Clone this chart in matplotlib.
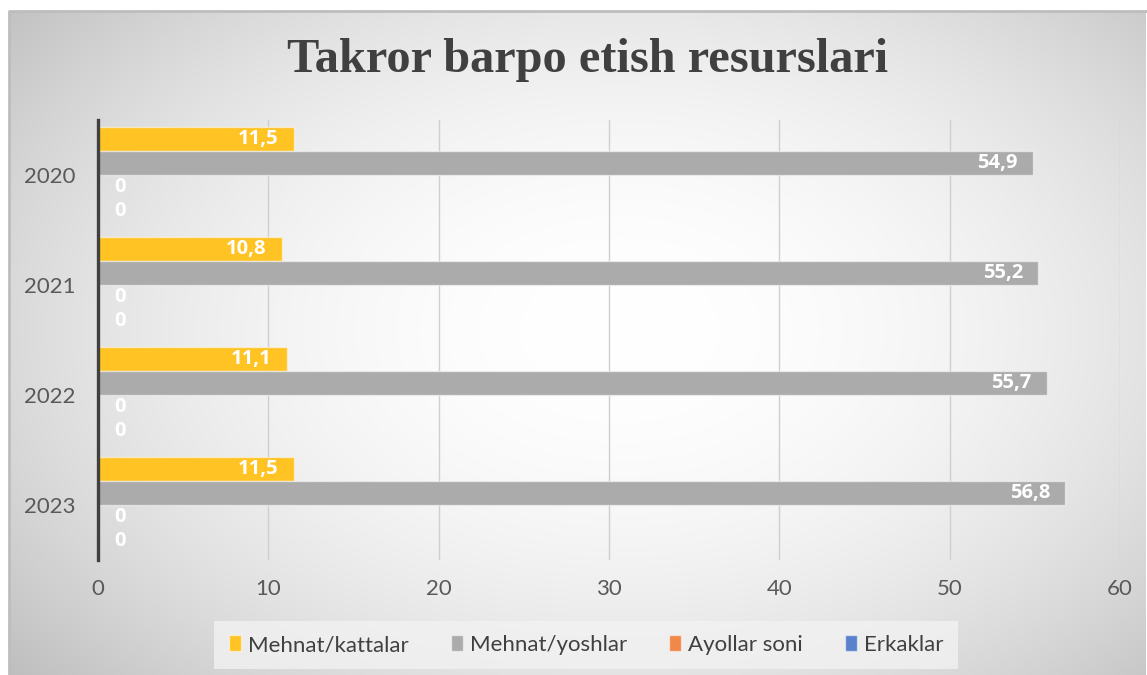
import numpy as np
import matplotlib.pyplot as plt

# data
years = ["2020", "2021", "2022", "2023"]
series_names = ["Mehnat/kattalar", "Mehnat/yoshlar", "Ayollar soni", "Erkaklar"]
kattalar = [11.5, 10.8, 11.1, 11.5]
yoshlar = [54.9, 55.2, 55.7, 56.8]
ayollar = [0, 0, 0, 0]
erkaklar = [0, 0, 0, 0]
colors = ["#FFC324", "#ABABAB", "#F0884A", "#5A82CC"]

FONT = "Lato"
LABEL_FONT = "Open Sans"
W, H = 1147, 675
fig = plt.figure(figsize=(W / 100, H / 100), dpi=100)
fig.patch.set_facecolor("white")

# radial gradient background of the chart area
x0, y0, x1, y1 = 9, 11, 1146, 675
bg = fig.add_axes([x0 / W, 1 - y1 / H, (x1 - x0) / W, (y1 - y0) / H], zorder=-5)
gx, gy = np.meshgrid(np.linspace(x0, x1, 400), np.linspace(y0, y1, 240))
r = np.sqrt(((gx - 620) / 640) ** 2 + ((gy - 330) / 420) ** 2)
v = 1.0 - 0.16 * r ** 2
v = np.clip(v, 0.74, 1)
img = np.dstack([v, v, v])
bg.imshow(img, extent=[0, 1, 0, 1], aspect="auto", origin="upper", interpolation="bilinear")
bg.set_xlim(0, 1)
bg.set_ylim(0, 1)
bg.axis("off")
bg.plot([0, 0, 1], [0, 1, 1], color="#BDBDBD", lw=2, transform=bg.transAxes, clip_on=False)

fig.text(588 / W, 1 - 60 / H, "Takror barpo etish resurslari", ha="center", va="center",
         fontsize=34.8, fontweight="bold", family="Liberation Serif", color="#404040")

ax = fig.add_axes([98 / W, 1 - 560 / H, (1120 - 98) / W, 440 / H])
ax.set_facecolor("none")

y = np.arange(len(years))
bh = 0.218
all_vals = [kattalar, yoshlar, ayollar, erkaklar]
for k, (vals, name, c) in enumerate(zip(all_vals, series_names, colors)):
    off = (k - 1.5) * bh
    bars = ax.barh(y + off, vals, height=bh, color=c, edgecolor=(1, 1, 1, 0.5),
                   linewidth=1, label=name, zorder=3)
    for b, val in zip(bars, vals):
        txt = f"{val:g}".replace(".", ",")
        yc = b.get_y() + b.get_height() / 2
        if val > 0:
            ax.annotate(txt, (val, yc), xytext=(-11, 0), textcoords="offset points",
                        ha="right", va="center", color="white", fontsize=14.5,
                        fontweight="bold", family=LABEL_FONT, zorder=4)
        else:
            ax.annotate(txt, (0, yc), xytext=(12, 0), textcoords="offset points",
                        ha="left", va="center", color="white", fontsize=14.5,
                        fontweight="bold", family=LABEL_FONT, zorder=4)

ax.set_ylim(len(years) - 0.5, -0.5)
ax.set_xlim(0, 60)
ax.set_xticks(range(0, 61, 10))
ax.set_yticks(y)
ax.set_yticklabels(years)
ax.tick_params(axis="both", length=0, labelsize=16, labelcolor="#595959")
ax.tick_params(axis="y", pad=16)
ax.tick_params(axis="x", pad=14)
for lab in ax.get_xticklabels() + ax.get_yticklabels():
    lab.set_family(FONT)
ax.grid(axis="x", color="#CFCFCF", lw=1, zorder=0)
for s in ["top", "right", "bottom"]:
    ax.spines[s].set_visible(False)
ax.spines["left"].set_color("#404040")
ax.spines["left"].set_linewidth(2.4)
ax.spines["left"].set_zorder(5)

leg = fig.legend(loc="center", bbox_to_anchor=(586 / W, 1 - 645 / H), ncol=4,
                 frameon=True, fancybox=False, handlelength=0.55,
                 handleheight=0.75, handletextpad=0.3, columnspacing=1.9,
                 borderpad=0.65, borderaxespad=0, prop={"family": FONT, "size": 16})
leg.get_frame().set_facecolor("#F2F2F2")
leg.get_frame().set_edgecolor("none")
for t in leg.get_texts():
    t.set_color("#404040")

fig.savefig("out.png", dpi=100)
